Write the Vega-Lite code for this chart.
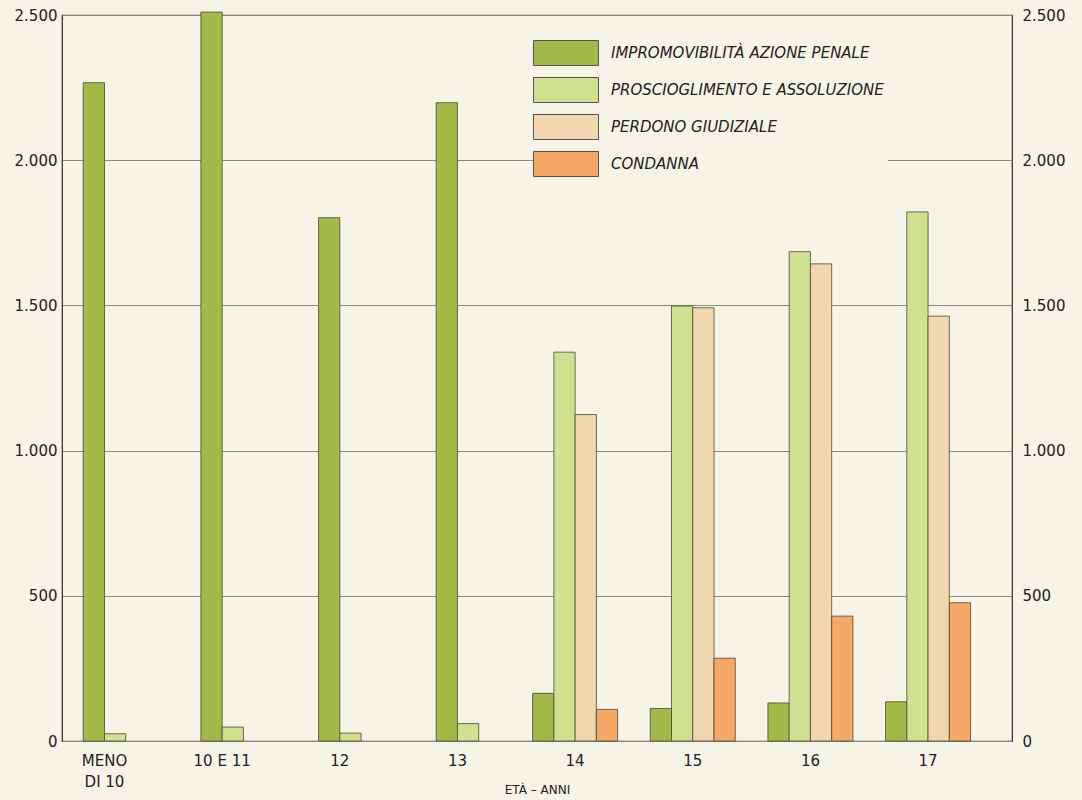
{
  "$schema": "https://vega.github.io/schema/vega-lite/v6.json",
  "width": 950,
  "height": 726,
  "autosize": "none",
  "padding": {"left": 62, "top": 15, "right": 70, "bottom": 59},
  "background": "#f6f3e7",
  "config": {
    "view": {"stroke": "#3a3a3a", "strokeWidth": 1.2},
    "font": "DejaVu Sans"
  },
  "data": {
    "values": [
      {"eta": "MENO DI 10", "esito": "IMPROMOVIBILITÀ AZIONE PENALE", "valore": 2267},
      {"eta": "MENO DI 10", "esito": "PROSCIOGLIMENTO E ASSOLUZIONE", "valore": 25},
      {"eta": "10 E 11", "esito": "IMPROMOVIBILITÀ AZIONE PENALE", "valore": 2510},
      {"eta": "10 E 11", "esito": "PROSCIOGLIMENTO E ASSOLUZIONE", "valore": 48},
      {"eta": "12", "esito": "IMPROMOVIBILITÀ AZIONE PENALE", "valore": 1802},
      {"eta": "12", "esito": "PROSCIOGLIMENTO E ASSOLUZIONE", "valore": 27},
      {"eta": "13", "esito": "IMPROMOVIBILITÀ AZIONE PENALE", "valore": 2198},
      {"eta": "13", "esito": "PROSCIOGLIMENTO E ASSOLUZIONE", "valore": 60},
      {"eta": "14", "esito": "IMPROMOVIBILITÀ AZIONE PENALE", "valore": 164},
      {"eta": "14", "esito": "PROSCIOGLIMENTO E ASSOLUZIONE", "valore": 1339},
      {"eta": "14", "esito": "PERDONO GIUDIZIALE", "valore": 1124},
      {"eta": "14", "esito": "CONDANNA", "valore": 109},
      {"eta": "15", "esito": "IMPROMOVIBILITÀ AZIONE PENALE", "valore": 112},
      {"eta": "15", "esito": "PROSCIOGLIMENTO E ASSOLUZIONE", "valore": 1498},
      {"eta": "15", "esito": "PERDONO GIUDIZIALE", "valore": 1492},
      {"eta": "15", "esito": "CONDANNA", "valore": 285},
      {"eta": "16", "esito": "IMPROMOVIBILITÀ AZIONE PENALE", "valore": 131},
      {"eta": "16", "esito": "PROSCIOGLIMENTO E ASSOLUZIONE", "valore": 1685},
      {"eta": "16", "esito": "PERDONO GIUDIZIALE", "valore": 1643},
      {"eta": "16", "esito": "CONDANNA", "valore": 430},
      {"eta": "17", "esito": "IMPROMOVIBILITÀ AZIONE PENALE", "valore": 135},
      {"eta": "17", "esito": "PROSCIOGLIMENTO E ASSOLUZIONE", "valore": 1822},
      {"eta": "17", "esito": "PERDONO GIUDIZIALE", "valore": 1463},
      {"eta": "17", "esito": "CONDANNA", "valore": 476}
    ]
  },
  "encoding": {
    "x": {
      "field": "eta",
      "type": "nominal",
      "scale": {
        "domain": ["MENO DI 10", "10 E 11", "12", "13", "14", "15", "16", "17"],
        "paddingInner": 0.2775,
        "paddingOuter": 0.176,
        "align": 0
      },
      "axis": {
        "title": "ETÀ – ANNI",
        "titleFontSize": 12,
        "titleFontWeight": "normal",
        "titleColor": "#222",
        "titleY": 48,
        "titleBaseline": "middle",
        "labelAngle": 0,
        "labelFontSize": 15,
        "labelColor": "#222",
        "labelPadding": 12,
        "labelLineHeight": 21,
        "labelExpr": "datum.value == 'MENO DI 10' ? ['MENO', 'DI 10'] : datum.value",
        "ticks": false,
        "domain": false
      }
    },
    "color": {
      "field": "esito",
      "type": "nominal",
      "scale": {
        "domain": ["IMPROMOVIBILITÀ AZIONE PENALE", "PROSCIOGLIMENTO E ASSOLUZIONE", "PERDONO GIUDIZIALE", "CONDANNA"],
        "range": ["#a4ba48", "#cfe08e", "#f2d6ae", "#f5a868"]
      },
      "legend": {
        "title": null,
        "orient": "none",
        "legendX": 487,
        "legendY": 21,
        "symbolType": "M-2.6,-1H2.6V1H-2.6Z",
        "symbolSize": 625,
        "symbolStrokeColor": "#555",
        "symbolStrokeWidth": 1,
        "symbolOpacity": 1,
        "labelFont": "DejaVu Sans",
        "labelFontStyle": "italic",
        "labelFontSize": 15,
        "labelColor": "#222",
        "labelOffset": 32,
        "labelLimit": 400,
        "rowPadding": 7,
        "fillColor": "#f6f3e7",
        "padding": 4
      }
    }
  },
  "layer": [
    {
      "transform": [{"filter": "indexof(['MENO DI 10', '10 E 11', '12', '13'], datum.eta) >= 0"}],
      "mark": {"type": "bar", "stroke": "#4a4a38", "strokeWidth": 1, "strokeOpacity": 0.8},
      "encoding": {
        "xOffset": {
          "field": "esito",
          "type": "nominal",
          "scale": {
            "domain": ["IMPROMOVIBILITÀ AZIONE PENALE", "PROSCIOGLIMENTO E ASSOLUZIONE"],
            "paddingInner": 0,
            "paddingOuter": 1
          }
        },
        "y": {
          "field": "valore",
          "type": "quantitative",
          "scale": {"domain": [0, 2500], "nice": false},
          "axis": {
            "orient": "left",
            "title": null,
            "values": [0, 500, 1000, 1500, 2000, 2500],
            "labelExpr": "replace(format(datum.value, ','), ',', '.')",
            "labelFontSize": 15,
            "labelColor": "#222",
            "labelPadding": 5,
            "ticks": false,
            "domainColor": "#3a3a3a",
            "grid": true,
            "gridColor": "#8a8a80",
            "gridWidth": 1
          }
        }
      }
    },
    {
      "transform": [{"filter": "indexof(['14', '15', '16', '17'], datum.eta) >= 0"}],
      "mark": {"type": "bar", "stroke": "#4a4a38", "strokeWidth": 1, "strokeOpacity": 0.8},
      "encoding": {
        "xOffset": {
          "field": "esito",
          "type": "nominal",
          "scale": {
            "domain": ["IMPROMOVIBILITÀ AZIONE PENALE", "PROSCIOGLIMENTO E ASSOLUZIONE", "PERDONO GIUDIZIALE", "CONDANNA"],
            "paddingInner": 0,
            "paddingOuter": 0
          }
        },
        "y": {
          "field": "valore",
          "type": "quantitative",
          "scale": {"domain": [0, 2500], "nice": false},
          "axis": {
            "orient": "right",
            "title": null,
            "values": [0, 500, 1000, 1500, 2000, 2500],
            "labelExpr": "replace(format(datum.value, ','), ',', '.')",
            "labelFontSize": 15,
            "labelColor": "#222",
            "labelPadding": 10,
            "ticks": false,
            "domainColor": "#3a3a3a",
            "grid": false
          }
        }
      }
    }
  ],
  "resolve": {"scale": {"xOffset": "independent"}, "axis": {"y": "independent"}}
}
